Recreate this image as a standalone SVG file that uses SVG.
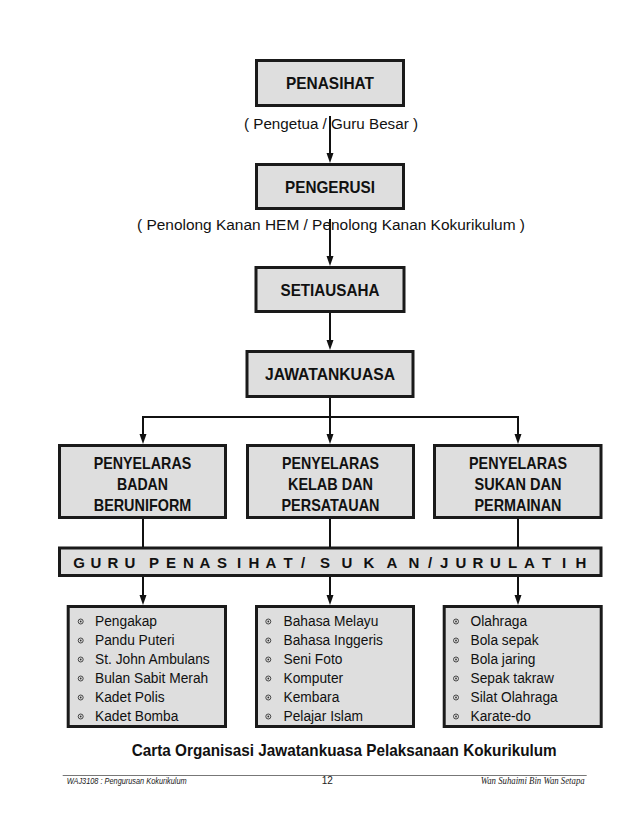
<svg xmlns="http://www.w3.org/2000/svg" width="638" height="826" viewBox="0 0 638 826">
<defs>
<marker id="ah" markerUnits="userSpaceOnUse" markerWidth="10" markerHeight="8" refX="7" refY="3.5" orient="auto">
<path d="M0,0 L10,3.5 L0,7 Z" fill="#111"/>
</marker>
<style>
.box{fill:#dedede;stroke:#1a1a1a;stroke-width:3}
.lbl{font-family:"Liberation Sans",Arial,sans-serif;font-weight:bold;font-size:16.5px;fill:#111;text-anchor:middle}
.sub{font-family:"Liberation Sans",Arial,sans-serif;font-size:15.5px;fill:#111;text-anchor:middle}
.item{font-family:"Liberation Sans",Arial,sans-serif;font-size:14.5px;fill:#111}
.bul circle{fill:none;stroke:#333;stroke-width:0.9}
.bul circle.d{fill:#333;stroke:none}
.con path{fill:none;stroke:#111;stroke-width:2}
.arr{marker-end:url(#ah)}
</style>
</defs>
<rect width="638" height="826" fill="#fff"/>

<g id="penasihat">
<rect class="box" x="256.5" y="60.5" width="147" height="45"/>
<text class="lbl" x="330" y="89" textLength="88" lengthAdjust="spacingAndGlyphs">PENASIHAT</text>
<text class="sub" x="331" y="129" textLength="174" lengthAdjust="spacingAndGlyphs">( Pengetua / Guru Besar )</text>
</g>

<g id="pengerusi">
<rect class="box" x="256.5" y="164.5" width="147" height="44"/>
<text class="lbl" x="330" y="192.5" textLength="90" lengthAdjust="spacingAndGlyphs">PENGERUSI</text>
<text class="sub" x="331" y="230" textLength="388" lengthAdjust="spacingAndGlyphs">( Penolong Kanan HEM / Penolong Kanan Kokurikulum )</text>
</g>

<g id="setiausaha">
<rect class="box" x="256" y="267.5" width="148" height="44"/>
<text class="lbl" x="330" y="296" textLength="99" lengthAdjust="spacingAndGlyphs">SETIAUSAHA</text>
</g>

<g id="jawatankuasa">
<rect class="box" x="247" y="351.5" width="166" height="45"/>
<text class="lbl" x="330" y="380" textLength="130" lengthAdjust="spacingAndGlyphs">JAWATANKUASA</text>
</g>

<g id="penyelaras-badan">
<rect class="box" x="59.5" y="445.5" width="166" height="72"/>
<text class="lbl" x="142.5" y="469" textLength="97.5" lengthAdjust="spacingAndGlyphs">PENYELARAS</text>
<text class="lbl" x="142.5" y="490" textLength="51" lengthAdjust="spacingAndGlyphs">BADAN</text>
<text class="lbl" x="142.5" y="511" textLength="97.5" lengthAdjust="spacingAndGlyphs">BERUNIFORM</text>
</g>

<g id="penyelaras-kelab">
<rect class="box" x="247.5" y="445.5" width="166" height="72"/>
<text class="lbl" x="330.5" y="469" textLength="97" lengthAdjust="spacingAndGlyphs">PENYELARAS</text>
<text class="lbl" x="330.5" y="490" textLength="85" lengthAdjust="spacingAndGlyphs">KELAB DAN</text>
<text class="lbl" x="330.5" y="511" textLength="98" lengthAdjust="spacingAndGlyphs">PERSATAUAN</text>
</g>

<g id="penyelaras-sukan">
<rect class="box" x="434.5" y="445.5" width="166.5" height="72"/>
<text class="lbl" x="518" y="469" textLength="98" lengthAdjust="spacingAndGlyphs">PENYELARAS</text>
<text class="lbl" x="518" y="490" textLength="87" lengthAdjust="spacingAndGlyphs">SUKAN DAN</text>
<text class="lbl" x="518" y="511" textLength="87" lengthAdjust="spacingAndGlyphs">PERMAINAN</text>
</g>

<g id="guru-bar">
<rect class="box" x="59.5" y="548" width="541.5" height="27.5"/>
<text font-family="Liberation Sans, Arial, sans-serif" font-weight="bold" font-size="15" fill="#111" y="568" x="73.2 90.6 107.6 124.6 149 166 183 199.6 217 236.9 248.6 265.6 283.4 300.9 320 341.6 363.6 386.6 408.6 428 439.9 455.6 472.6 490.1 507.9 524.1 541.9 561.9 575.6">GURUPENASIHAT/SUKAN/JURULATIH</text>
</g>

<g id="list-badan">
<rect class="box" x="68.2" y="606.5" width="157.3" height="120"/>
<g class="bul">
<circle cx="80.7" cy="621.5" r="2.5"/><circle class="d" cx="80.7" cy="621.5" r="0.9"/>
<circle cx="80.7" cy="640.5" r="2.5"/><circle class="d" cx="80.7" cy="640.5" r="0.9"/>
<circle cx="80.7" cy="659.5" r="2.5"/><circle class="d" cx="80.7" cy="659.5" r="0.9"/>
<circle cx="80.7" cy="678.5" r="2.5"/><circle class="d" cx="80.7" cy="678.5" r="0.9"/>
<circle cx="80.7" cy="697.5" r="2.5"/><circle class="d" cx="80.7" cy="697.5" r="0.9"/>
<circle cx="80.7" cy="716.5" r="2.5"/><circle class="d" cx="80.7" cy="716.5" r="0.9"/>
</g>
<g class="item" transform="translate(95 0) scale(0.95 1)">
<text x="0" y="626">Pengakap</text>
<text x="0" y="645">Pandu Puteri</text>
<text x="0" y="664">St. John Ambulans</text>
<text x="0" y="683">Bulan Sabit Merah</text>
<text x="0" y="702">Kadet Polis</text>
<text x="0" y="721">Kadet Bomba</text>
</g>
</g>

<g id="list-kelab">
<rect class="box" x="256.5" y="606.5" width="157" height="120"/>
<g class="bul">
<circle cx="268.3" cy="621.5" r="2.5"/><circle class="d" cx="268.3" cy="621.5" r="0.9"/>
<circle cx="268.3" cy="640.5" r="2.5"/><circle class="d" cx="268.3" cy="640.5" r="0.9"/>
<circle cx="268.3" cy="659.5" r="2.5"/><circle class="d" cx="268.3" cy="659.5" r="0.9"/>
<circle cx="268.3" cy="678.5" r="2.5"/><circle class="d" cx="268.3" cy="678.5" r="0.9"/>
<circle cx="268.3" cy="697.5" r="2.5"/><circle class="d" cx="268.3" cy="697.5" r="0.9"/>
<circle cx="268.3" cy="716.5" r="2.5"/><circle class="d" cx="268.3" cy="716.5" r="0.9"/>
</g>
<g class="item" transform="translate(283.5 0) scale(0.95 1)">
<text x="0" y="626">Bahasa Melayu</text>
<text x="0" y="645">Bahasa Inggeris</text>
<text x="0" y="664">Seni Foto</text>
<text x="0" y="683">Komputer</text>
<text x="0" y="702">Kembara</text>
<text x="0" y="721">Pelajar Islam</text>
</g>
</g>

<g id="list-sukan">
<rect class="box" x="444.2" y="606.5" width="157" height="120"/>
<g class="bul">
<circle cx="456" cy="621.5" r="2.5"/><circle class="d" cx="456" cy="621.5" r="0.9"/>
<circle cx="456" cy="640.5" r="2.5"/><circle class="d" cx="456" cy="640.5" r="0.9"/>
<circle cx="456" cy="659.5" r="2.5"/><circle class="d" cx="456" cy="659.5" r="0.9"/>
<circle cx="456" cy="678.5" r="2.5"/><circle class="d" cx="456" cy="678.5" r="0.9"/>
<circle cx="456" cy="697.5" r="2.5"/><circle class="d" cx="456" cy="697.5" r="0.9"/>
<circle cx="456" cy="716.5" r="2.5"/><circle class="d" cx="456" cy="716.5" r="0.9"/>
</g>
<g class="item" transform="translate(470.5 0) scale(0.95 1)">
<text x="0" y="626">Olahraga</text>
<text x="0" y="645">Bola sepak</text>
<text x="0" y="664">Bola jaring</text>
<text x="0" y="683">Sepak takraw</text>
<text x="0" y="702">Silat Olahraga</text>
<text x="0" y="721">Karate-do</text>
</g>
</g>

<g id="connectors" class="con">
<path class="arr" d="M330,116 V160"/>
<path class="arr" d="M330,219 V263"/>
<path class="arr" d="M330,313 V347"/>
<path d="M330,398 V417"/>
<path d="M142,417 H519"/>
<path class="arr" d="M143,416 V441"/>
<path class="arr" d="M330,416 V441"/>
<path class="arr" d="M518,416 V441"/>
<path d="M143,519 V547"/>
<path d="M330,519 V547"/>
<path d="M518,519 V547"/>
<path class="arr" d="M143,577 V602"/>
<path class="arr" d="M330,577 V602"/>
<path class="arr" d="M518,577 V602"/>
</g>

<g id="caption">
<text x="131.7" y="756" font-family="Liberation Sans, Arial, sans-serif" font-weight="bold" font-size="17" fill="#111" textLength="425" lengthAdjust="spacingAndGlyphs">Carta Organisasi Jawatankuasa Pelaksanaan Kokurikulum</text>
</g>

<g id="footer">
<path d="M62.7,775.5 H586.7" stroke="#777" stroke-width="1" fill="none"/>
<text x="66.7" y="784" font-family="Liberation Sans, Arial, sans-serif" font-style="italic" font-size="8.5" fill="#222" textLength="120" lengthAdjust="spacingAndGlyphs">WAJ3108 : Pengurusan Kokurikulum</text>
<text x="321.7" y="784" font-family="Liberation Sans, Arial, sans-serif" font-size="10" fill="#222">12</text>
<text x="480.7" y="784" font-family="Liberation Serif, Times New Roman, serif" font-style="italic" font-size="9.5" fill="#222" textLength="104" lengthAdjust="spacingAndGlyphs">Wan Suhaimi Bin Wan Setapa</text>
</g>
</svg>
